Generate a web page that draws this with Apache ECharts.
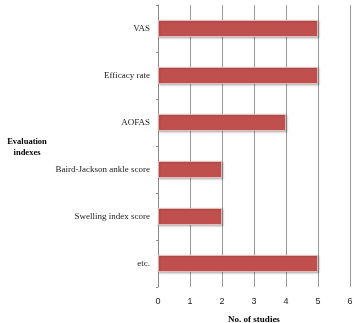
<!DOCTYPE html>
<html>
<head>
<meta charset="utf-8">
<script src="https://cdn.jsdelivr.net/npm/echarts@6/dist/echarts.min.js"></script>
<style>html,body{margin:0;padding:0;background:#fff;}#c{width:354px;height:323px;}</style>
</head>
<body>
<div id="c"></div>
<script>
var categories = ['VAS', 'Efficacy rate', 'AOFAS', 'Baird-Jackson ankle score', 'Swelling index score', 'etc.'];
var studies = [5, 5, 4, 2, 2, 5];
var xTicks = [0, 1, 2, 3, 4, 5, 6];
var yAxisTitle = 'Evaluation\nindexes';

var chart = echarts.init(document.getElementById('c'));
chart.setOption({
  animation: false,
  backgroundColor: '#fff',
  grid: { left: 158, right: 4, top: 5, bottom: 36, containLabel: false, outerBoundsMode: 'none' },
  graphic: [{
    type: 'text', x: 27, y: 147,
    style: { text: yAxisTitle, fontFamily: 'Liberation Serif', fontWeight: 'bold', fontSize: 8.5,
      fill: '#000', align: 'center', verticalAlign: 'middle', lineHeight: 11 }
  }],
  xAxis: {
    type: 'value', min: 0, max: 6, interval: 1,
    name: 'No. of studies', nameLocation: 'middle', nameGap: 28,
    nameTextStyle: { fontFamily: 'Liberation Serif', fontWeight: 'bold', fontSize: 9, color: '#000' },
    axisLine: { show: false }, axisTick: { show: false },
    axisLabel: { margin: 10, fontFamily: 'Liberation Sans', fontSize: 9, color: '#222',
      formatter: function (v) { return xTicks.indexOf(v) >= 0 ? String(v) : ''; } },
    splitLine: { show: true, lineStyle: { color: '#9a9a9a', width: 1 } }
  },
  yAxis: {
    type: 'category', data: categories, inverse: true,
    axisLine: { show: true, lineStyle: { color: '#888' } },
    axisTick: { show: true, length: 2, lineStyle: { color: '#888' } },
    axisLabel: { margin: 8, fontFamily: 'Liberation Serif', fontSize: 9, color: '#222' },
    splitLine: { show: false }
  },
  series: [{
    type: 'bar', data: studies, barWidth: 17,
    itemStyle: { color: '#C0504D', borderColor: '#f0d0cf', borderWidth: 0.8,
      shadowColor: 'rgba(0,0,0,0.25)', shadowBlur: 2, shadowOffsetX: 1, shadowOffsetY: 1 }
  }]
});
</script>
</body>
</html>
